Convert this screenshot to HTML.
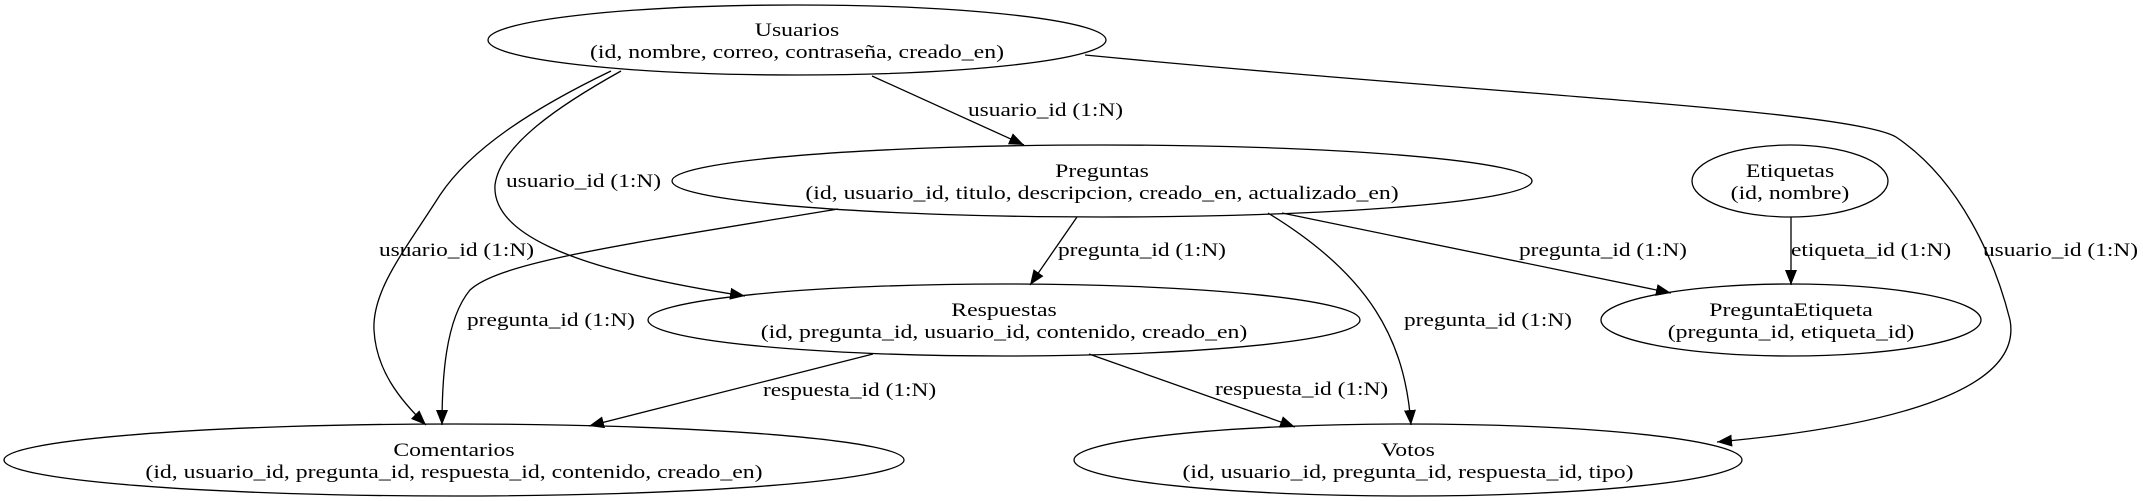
<!DOCTYPE html>
<html><head><meta charset="utf-8"><style>
html,body{margin:0;padding:0;background:#fff;}
svg{display:block;}
text{font-family:"Liberation Serif",serif;font-size:19px;fill:#000;}
</style></head><body>
<svg width="2143" height="501" viewBox="0 0 2143 501" xmlns="http://www.w3.org/2000/svg">
<defs>
<marker id="a" markerUnits="userSpaceOnUse" markerWidth="16" markerHeight="12" refX="15" refY="6" orient="auto">
<path d="M0,0 L15,6 L0,12 Z" fill="#000"/>
</marker>
</defs>
<g fill="none" stroke="#000" stroke-width="1.3">
<ellipse cx="797" cy="40" rx="309" ry="35"/>
<ellipse cx="1102" cy="181" rx="430" ry="36"/>
<ellipse cx="1790" cy="181" rx="98" ry="36"/>
<ellipse cx="1004" cy="320" rx="356" ry="36"/>
<ellipse cx="1791" cy="320" rx="190" ry="36"/>
<ellipse cx="454" cy="460" rx="450" ry="36"/>
<ellipse cx="1408" cy="460" rx="334" ry="36"/>

<path d="M872,76 L1024,145" marker-end="url(#a)"/>
<path d="M621,71 C560,105 500,145 495,185 C492,230 560,268 745,296" marker-end="url(#a)"/>
<path d="M611,71 C530,110 470,150 440,195 C405,250 372,290 374,330 C376,370 400,400 426,425" marker-end="url(#a)"/>
<path d="M838,209 C620,245 500,262 470,290 C445,320 442,380 442,425" marker-end="url(#a)"/>
<path d="M873,354 L589,426" marker-end="url(#a)"/>
<path d="M1077,217 L1030,285" marker-end="url(#a)"/>
<path d="M1268,213 C1370,275 1405,340 1411,425" marker-end="url(#a)"/>
<path d="M1282,213 L1671,293" marker-end="url(#a)"/>
<path d="M1791,217 L1791,285" marker-end="url(#a)"/>
<path d="M1089,354 L1295,427" marker-end="url(#a)"/>
<path d="M1085,55 C1500,95 1850,110 1896,137 C1960,180 1995,260 2010,320 C2025,400 1850,430 1717,442" marker-end="url(#a)"/>
</g>
<g text-anchor="middle">
<text transform="translate(797,36) scale(1.25,1)">Usuarios</text><text transform="translate(797,58) scale(1.25,1)">(id, nombre, correo, contraseña, creado_en)</text>
<text transform="translate(1102,177) scale(1.25,1)">Preguntas</text><text transform="translate(1102,199) scale(1.25,1)">(id, usuario_id, titulo, descripcion, creado_en, actualizado_en)</text>
<text transform="translate(1790,177) scale(1.25,1)">Etiquetas</text><text transform="translate(1790,199) scale(1.25,1)">(id, nombre)</text>
<text transform="translate(1004,316) scale(1.25,1)">Respuestas</text><text transform="translate(1004,338) scale(1.25,1)">(id, pregunta_id, usuario_id, contenido, creado_en)</text>
<text transform="translate(1791,316) scale(1.25,1)">PreguntaEtiqueta</text><text transform="translate(1791,338) scale(1.25,1)">(pregunta_id, etiqueta_id)</text>
<text transform="translate(454,456) scale(1.25,1)">Comentarios</text><text transform="translate(454,478) scale(1.25,1)">(id, usuario_id, pregunta_id, respuesta_id, contenido, creado_en)</text>
<text transform="translate(1408,456) scale(1.25,1)">Votos</text><text transform="translate(1408,478) scale(1.25,1)">(id, usuario_id, pregunta_id, respuesta_id, tipo)</text>
</g>
<g>
<text transform="translate(968,116) scale(1.23,1)">usuario_id (1:N)</text>
<text transform="translate(506,187) scale(1.23,1)">usuario_id (1:N)</text>
<text transform="translate(379,256) scale(1.23,1)">usuario_id (1:N)</text>
<text transform="translate(467,326) scale(1.23,1)">pregunta_id (1:N)</text>
<text transform="translate(763,396) scale(1.23,1)">respuesta_id (1:N)</text>
<text transform="translate(1058,256) scale(1.23,1)">pregunta_id (1:N)</text>
<text transform="translate(1404,326) scale(1.23,1)">pregunta_id (1:N)</text>
<text transform="translate(1519,256) scale(1.23,1)">pregunta_id (1:N)</text>
<text transform="translate(1791,256) scale(1.23,1)">etiqueta_id (1:N)</text>
<text transform="translate(1215,395) scale(1.23,1)">respuesta_id (1:N)</text>
<text transform="translate(1983,256) scale(1.23,1)">usuario_id (1:N)</text>
</g>
</svg>
</body></html>
